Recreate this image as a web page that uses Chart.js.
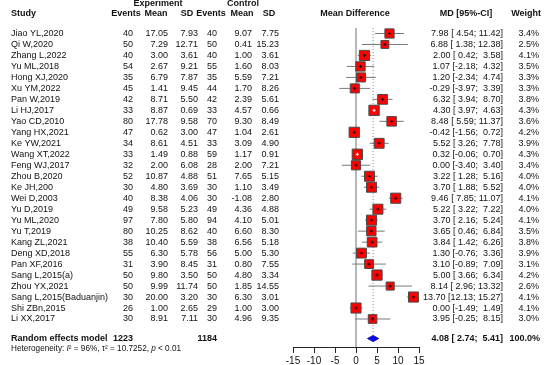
<!DOCTYPE html>
<html>
<head>
<meta charset="utf-8">
<script src="https://cdn.jsdelivr.net/npm/chart.js@4"></script>
<style>
  html, body { margin: 0; padding: 0; background: #fff; }
  #wrap { width: 544px; height: 365px; position: relative; }
</style>
</head>
<body>
<div id="wrap"><canvas id="forest"></canvas></div>
<script>
// --- data ---
const studies = ["Jiao YL,2020", "Qi W,2020", "Zhang L,2022", "Yu ML,2018", "Hong XJ,2020", "Xu YM,2022",
  "Pan W,2019", "Li HJ,2017", "Yao CD,2010", "Yang HX,2021", "Ke YW,2021", "Wang XT,2022", "Feng WJ,2017",
  "Zhou B,2020", "Ke JH,200", "Wei D,2003", "Yu D,2019", "Yu ML,2020", "Yu T,2019", "Kang ZL,2021",
  "Deng XD,2018", "Pan XF,2016", "Sang L,2015(a)", "Zhou YX,2021", "Sang L,2015(Baduanjin)", "Shi ZBn,2015", "Li XX,2017"];
const expN = [40, 50, 40, 54, 35, 45, 42, 33, 80, 47, 34, 33, 32, 52, 30, 40, 49, 97, 80, 38, 55, 31, 50, 50, 30, 26, 30];
const expMean = [17.05, 7.29, 3.00, 2.67, 6.79, 1.41, 8.71, 8.87, 17.78, 0.62, 8.61, 1.49, 2.00, 10.87, 4.80, 8.38,
  9.58, 7.80, 10.25, 10.40, 6.30, 3.90, 9.80, 9.99, 20.00, 1.00, 8.91];
const expSD = [7.93, 12.71, 3.61, 9.21, 7.87, 9.45, 5.50, 0.69, 9.58, 3.00, 4.51, 0.88, 6.08, 4.88, 3.69, 4.06,
  5.23, 5.80, 8.62, 5.59, 5.78, 8.45, 3.50, 11.74, 3.20, 2.65, 7.11];
const ctrlN = [40, 50, 40, 55, 35, 44, 42, 33, 70, 47, 33, 59, 28, 51, 30, 30, 49, 94, 40, 38, 56, 31, 50, 50, 30, 29, 30];
const ctrlMean = [9.07, 0.41, 1.00, 1.60, 5.59, 1.70, 2.39, 4.57, 9.30, 1.04, 3.09, 1.17, 2.00, 7.65, 1.10, -1.08,
  4.36, 4.10, 6.60, 6.56, 5.00, 0.80, 4.80, 1.85, 6.30, 1.00, 4.96];
const ctrlSD = [7.75, 15.23, 3.61, 8.03, 7.21, 8.26, 5.61, 0.66, 8.49, 2.61, 4.90, 0.91, 7.21, 5.15, 3.49, 2.80,
  4.88, 5.01, 8.30, 5.18, 5.30, 7.55, 3.34, 14.55, 3.01, 3.00, 9.35];
const md = [7.98, 6.88, 2.00, 1.07, 1.20, -0.29, 6.32, 4.30, 8.48, -0.42, 5.52, 0.32, 0.00, 3.22, 3.70, 9.46,
  5.22, 3.70, 3.65, 3.84, 1.30, 3.10, 5.00, 8.14, 13.70, 0.00, 3.95];
const ciLow = [4.54, 1.38, 0.42, -2.18, -2.34, -3.97, 3.94, 3.97, 5.59, -1.56, 3.26, -0.06, -3.40, 1.28, 1.88, 7.85,
  3.22, 2.16, 0.46, 1.42, -0.76, -0.89, 3.66, 2.96, 12.13, -1.49, -0.25];
const ciHigh = [11.42, 12.38, 3.58, 4.32, 4.74, 3.39, 8.70, 4.63, 11.37, 0.72, 7.78, 0.70, 3.40, 5.16, 5.52, 11.07,
  7.22, 5.24, 6.84, 6.26, 3.36, 7.09, 6.34, 13.32, 15.27, 1.49, 8.15];
const weights = [3.4, 2.5, 4.1, 3.5, 3.3, 3.3, 3.8, 4.3, 3.6, 4.2, 3.9, 4.3, 3.4, 4.0, 4.0, 4.1,
  4.0, 4.1, 3.5, 3.8, 3.9, 3.1, 4.2, 2.6, 4.1, 4.1, 3.0];
const totalN = [1223, 1184];
const pooled = [4.08, 2.74, 5.41];   // MD, lower, upper
const xTicks = [-15, -10, -5, 0, 5, 10, 15];

// --- layout helpers ---
const FONT = '"Liberation Sans", Arial, sans-serif';
const totalRow = 27.78;
const yMin = -0.5, yMax = 28.55;
const boxSide = w => 5.0 * Math.sqrt(w);
const pxPerUnit = 126 / 30;

const fmt = v => v.toFixed(2);
const ciText = (m, l, h) => `${fmt(m).padStart(5)} [${fmt(l).padStart(5)}; ${fmt(h).padStart(5)}]`;

// --- datasets ---
const ciSets = studies.map((s, i) => ({
  data: [{ x: ciLow[i], y: i }, { x: ciHigh[i], y: i }],
  showLine: true, borderColor: '#7a7a7a', borderWidth: 1, pointRadius: 0, order: 3
}));

const squares = {
  data: md.map((m, i) => ({ x: m, y: i })),
  pointStyle: 'rect',
  pointRadius: ctx => boxSide(weights[ctx.dataIndex]) / Math.SQRT2,
  backgroundColor: '#ff0000', borderColor: '#4a4a4a', borderWidth: 1, order: 2
};

const marks = {
  data: md.map((m, i) => ({ x: m, y: i })),
  pointStyle: 'cross',
  pointRadius: 1.6,
  borderColor: ctx => ((ciHigh[ctx.dataIndex] - ciLow[ctx.dataIndex]) * pxPerUnit < boxSide(weights[ctx.dataIndex]) * 0.5) ? '#ffffff' : '#111111',
  borderWidth: 1, order: 1
};

const zeroLine = {
  data: [{ x: 0, y: yMin }, { x: 0, y: yMax }],
  showLine: true, borderColor: '#b8b8b8', borderWidth: 2, pointRadius: 0, order: 6
};

const pooledLine = {
  data: [{ x: pooled[0], y: yMin }, { x: pooled[0], y: totalRow - 0.4 }],
  showLine: true, borderColor: '#8c8c8c', borderWidth: 1, borderDash: [1, 2], pointRadius: 0, order: 5
};

const diamond = {
  data: [
    { x: pooled[1], y: totalRow }, { x: pooled[0], y: totalRow - 0.28 },
    { x: pooled[2], y: totalRow }, { x: pooled[0], y: totalRow + 0.28 },
    { x: pooled[1], y: totalRow }
  ],
  showLine: true, fill: 'shape', backgroundColor: '#0000ff', borderColor: '#1a1a9a',
  borderWidth: 1, pointRadius: 0, tension: 0, order: 1
};

// --- text columns drawn next to the plot ---
function put(ctx, s, x, y, align, weight, size, style) {
  ctx.font = `${style || 'normal'} ${weight || 'normal'} ${size || 9}px ${FONT}`;
  ctx.textAlign = align;
  ctx.textBaseline = 'middle';
  ctx.fillText(s, x, y);
}

const tablePlugin = {
  id: 'forestTable',
  afterDraw(chart) {
    const ctx = chart.ctx;
    const ys = chart.scales.y;
    ctx.save();
    ctx.fillStyle = '#111';

    // headers
    put(ctx, 'Experiment', 158, 3.5, 'center', 'bold');
    put(ctx, 'Control', 243, 3.5, 'center', 'bold');
    const h = 13.5;
    put(ctx, 'Study', 11, h, 'left', 'bold');
    put(ctx, 'Events', 126, h, 'center', 'bold');
    put(ctx, 'Mean', 156, h, 'center', 'bold');
    put(ctx, 'SD', 187, h, 'center', 'bold');
    put(ctx, 'Events', 211, h, 'center', 'bold');
    put(ctx, 'Mean', 242, h, 'center', 'bold');
    put(ctx, 'SD', 269, h, 'center', 'bold');
    put(ctx, 'Mean Difference', 355, h, 'center', 'bold');
    put(ctx, 'MD [95%-CI]', 466, h, 'center', 'bold');
    put(ctx, 'Weight', 541, h, 'right', 'bold');

    studies.forEach((s, i) => {
      const y = ys.getPixelForValue(i);
      put(ctx, s, 11, y, 'left');
      put(ctx, String(expN[i]), 133, y, 'right');
      put(ctx, fmt(expMean[i]), 168, y, 'right');
      put(ctx, fmt(expSD[i]), 198, y, 'right');
      put(ctx, String(ctrlN[i]), 217, y, 'right');
      put(ctx, fmt(ctrlMean[i]), 252, y, 'right');
      put(ctx, fmt(ctrlSD[i]), 279, y, 'right');
      put(ctx, ciText(md[i], ciLow[i], ciHigh[i]), 503, y, 'right');
      put(ctx, weights[i].toFixed(1) + '%', 539, y, 'right');
    });

    const yt = ys.getPixelForValue(totalRow);
    put(ctx, 'Random effects model', 11, yt, 'left', 'bold');
    put(ctx, String(totalN[0]), 133, yt, 'right', 'bold');
    put(ctx, String(totalN[1]), 217, yt, 'right', 'bold');
    put(ctx, ciText(pooled[0], pooled[1], pooled[2]), 503, yt, 'right', 'bold');
    put(ctx, '100.0%', 540, yt, 'right', 'bold');

    // heterogeneity line, with italic symbols
    const parts = [['Heterogeneity: ', 'normal'], ['I', 'italic'], ['\u00B2 = 96%, ', 'normal'],
      ['\u03C4', 'normal'], ['\u00B2 = 10.7252, ', 'normal'], ['p', 'italic'], [' < 0.01', 'normal']];
    let x = 11;
    const yh = yt + 10;
    parts.forEach(([t, st]) => {
      put(ctx, t, x, yh, 'left', 'normal', 8.2, st);
      x += ctx.measureText(t).width;
    });
    ctx.restore();
  }
};

new Chart(document.getElementById('forest'), {
  type: 'scatter',
  data: { datasets: [marks, squares, diamond, ...ciSets, pooledLine, zeroLine] },
  options: {
    responsive: true,
    maintainAspectRatio: false,
    devicePixelRatio: 1,
    animation: false,
    events: [],
    layout: { padding: { left: 293, right: 125, top: 28, bottom: 0 } },
    plugins: { legend: { display: false }, tooltip: { enabled: false } },
    scales: {
      x: {
        type: 'linear', min: -15, max: 15,
        afterBuildTicks: scale => { scale.ticks = xTicks.map(v => ({ value: v })); },
        afterFit: scale => { scale.height = 18; },
        border: { display: true, color: '#222', width: 1 },
        grid: { drawOnChartArea: false, drawTicks: true, tickLength: 6, color: '#222' },
        ticks: { padding: 2, color: '#111', font: { family: FONT, size: 10 }, maxRotation: 0 }
      },
      y: { type: 'linear', display: false, reverse: true, min: yMin, max: yMax }
    }
  },
  plugins: [tablePlugin]
});
</script>
</body>
</html>
